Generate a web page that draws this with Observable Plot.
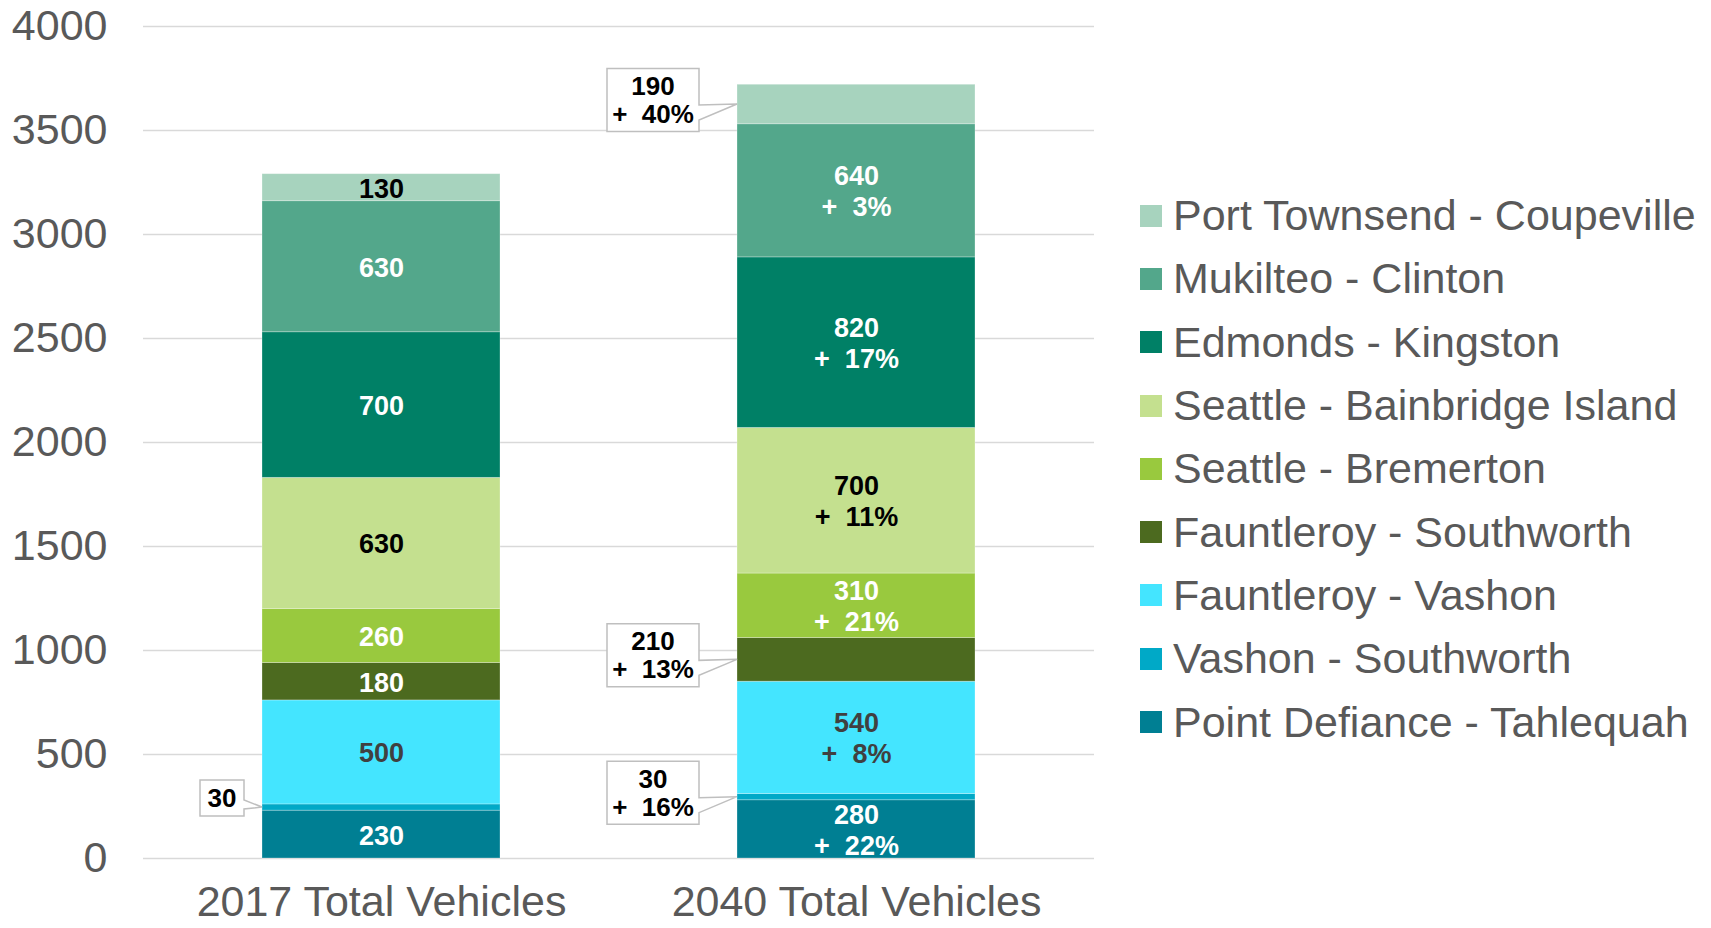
<!DOCTYPE html>
<html><head><meta charset="utf-8">
<script src="https://cdn.jsdelivr.net/npm/d3@7"></script>
<script src="https://cdn.jsdelivr.net/npm/@observablehq/plot@0.6"></script>
<style>
body{margin:0;background:#fff;font-family:"Liberation Sans",Arial,sans-serif;}
#wrap{position:relative;width:1711px;height:928px;overflow:hidden;}
#chart{position:absolute;left:0;top:0;}
#legend{position:absolute;left:1140px;top:184px;}
.item{display:flex;align-items:center;height:63.3px;font-size:43px;color:#595959;white-space:nowrap;line-height:1;}
.sw{width:22px;height:22px;margin-right:11px;flex:none;}
</style></head><body><div id="wrap"><div id="chart"></div><div id="legend"></div></div>
<script>
// ---- data ----
const categories = ["2017 Total Vehicles", "2040 Total Vehicles"];
// stacked bottom to top
const series = [
  "Point Defiance - Tahlequah",
  "Vashon - Southworth",
  "Fauntleroy - Vashon",
  "Fauntleroy - Southworth",
  "Seattle - Bremerton",
  "Seattle - Bainbridge Island",
  "Edmonds - Kingston",
  "Mukilteo - Clinton",
  "Port Townsend - Coupeville"
];
const values2017 = [230, 30, 500, 180, 260, 630, 700, 630, 130];
const values2040 = [280, 30, 540, 210, 310, 700, 820, 640, 190];
const growth2040 = [22, 16, 8, 13, 21, 11, 17, 3, 40];
const yTicks = [0, 500, 1000, 1500, 2000, 2500, 3000, 3500, 4000];
// segments whose label sits in a callout box
const callouts2017 = ["Vashon - Southworth"];
const callouts2040 = ["Port Townsend - Coupeville", "Fauntleroy - Southworth", "Vashon - Southworth"];

// ---- styles ----
const seriesColors = ["#007F93", "#00A9C7", "#44E5FF", "#4C6A1F", "#99C93E", "#C4E08F", "#008066", "#53A78B", "#A7D3BE"];
const labelColors = ["#FFFFFF", "#000000", "#404040", "#FFFFFF", "#FFFFFF", "#000000", "#FFFFFF", "#FFFFFF", "#000000"];
const colorOf = new Map(series.map((s, i) => [s, seriesColors[i]]));
const labelColorOf = new Map(series.map((s, i) => [s, labelColors[i]]));

const rows = [];
categories.forEach((cat, ci) => {
  series.forEach((s, si) => {
    const callList = ci === 0 ? callouts2017 : callouts2040;
    rows.push({
      cat, series: s,
      value: ci === 0 ? values2017[si] : values2040[si],
      growth: ci === 0 ? null : growth2040[si],
      callout: callList.includes(s)
    });
  });
});
const labelText = d => d.growth == null ? String(d.value) : `${d.value}\n+\u00a0\u00a0${d.growth}%`;

const FONT = "'Liberation Sans', Arial, sans-serif";

function renderCallouts(index, scales, values, dimensions, context) {
  const g = d3.create("svg:g");
  for (const i of index) {
    const d = rows[i];
    const tipX = values.x[i], tipY = values.y[i];
    const two = d.growth != null;
    const w = two ? 92 : 44, h = two ? 63 : 36, gap = two ? 38 : 18, off = two ? 4 : 9;
    const ta = two ? 1 : -7, tb = two ? 16 : 2;
    const right = tipX - gap, left = right - w;
    const cy = tipY - off, top = cy - h / 2, bottom = top + h;
    g.append("path")
      .attr("d", `M${left},${top}H${right}V${tipY + ta}L${tipX},${tipY}L${right},${tipY + tb}V${bottom}H${left}Z`)
      .attr("fill", "#fff").attr("stroke", "#BFBFBF").attr("stroke-width", 1.5);
    const lines = labelText(d).split("\n");
    const lh = 28;
    const t = g.append("text")
      .attr("text-anchor", "middle").attr("font-weight", "bold").attr("font-size", 26)
      .attr("font-family", FONT).attr("fill", "#000");
    lines.forEach((ln, k) => {
      t.append("tspan").attr("x", left + w / 2)
        .attr("y", cy + (k - (lines.length - 1) / 2) * lh)
        .attr("dy", "0.35em").text(ln);
    });
  }
  return g.node();
}

const chart = Plot.plot({
  width: 1120,
  height: 928,
  marginLeft: 143,
  marginRight: 26,
  marginTop: 26,
  marginBottom: 70,
  style: {fontFamily: FONT, color: "#595959", background: "#fff"},
  x: {domain: categories, paddingInner: 0.5, paddingOuter: 0.25, label: null},
  y: {domain: [0, 4000], label: null},
  color: {type: "identity"},
  marks: [
    Plot.ruleY(yTicks, {stroke: "#D9D9D9", strokeWidth: 1.5}),
    Plot.barY(rows, Plot.stackY({
      x: "cat", y: "value", z: "series", order: series,
      fill: d => colorOf.get(d.series),
      stroke: "#fff", strokeOpacity: 0.35, strokeWidth: 0.8
    })),
    Plot.text(rows, Plot.stackY({
      x: "cat", y: "value", z: "series", order: series,
      text: d => d.callout ? null : labelText(d),
      fill: d => labelColorOf.get(d.series),
      fontSize: 27, fontWeight: "bold", lineHeight: 1.15
    })),
    Plot.text(rows, Plot.stackY({
      x: "cat", y: "value", z: "series", order: series,
      text: d => d.callout ? labelText(d) : null,
      render: renderCallouts
    })),
    Plot.axisY(yTicks, {tickSize: 0, tickPadding: 36, fontSize: 43, label: null, tickFormat: d3.format("d")}),
    Plot.axisX({tickSize: 0, tickPadding: 27, fontSize: 43, label: null})
  ]
});
document.getElementById("chart").append(chart);

// legend (top to bottom = reverse stacking order)
const legend = d3.select("#legend");
series.slice().reverse().forEach(s => {
  const it = legend.append("div").attr("class", "item");
  it.append("div").attr("class", "sw").style("background", colorOf.get(s));
  it.append("span").text(s);
});
</script>
</body></html>
